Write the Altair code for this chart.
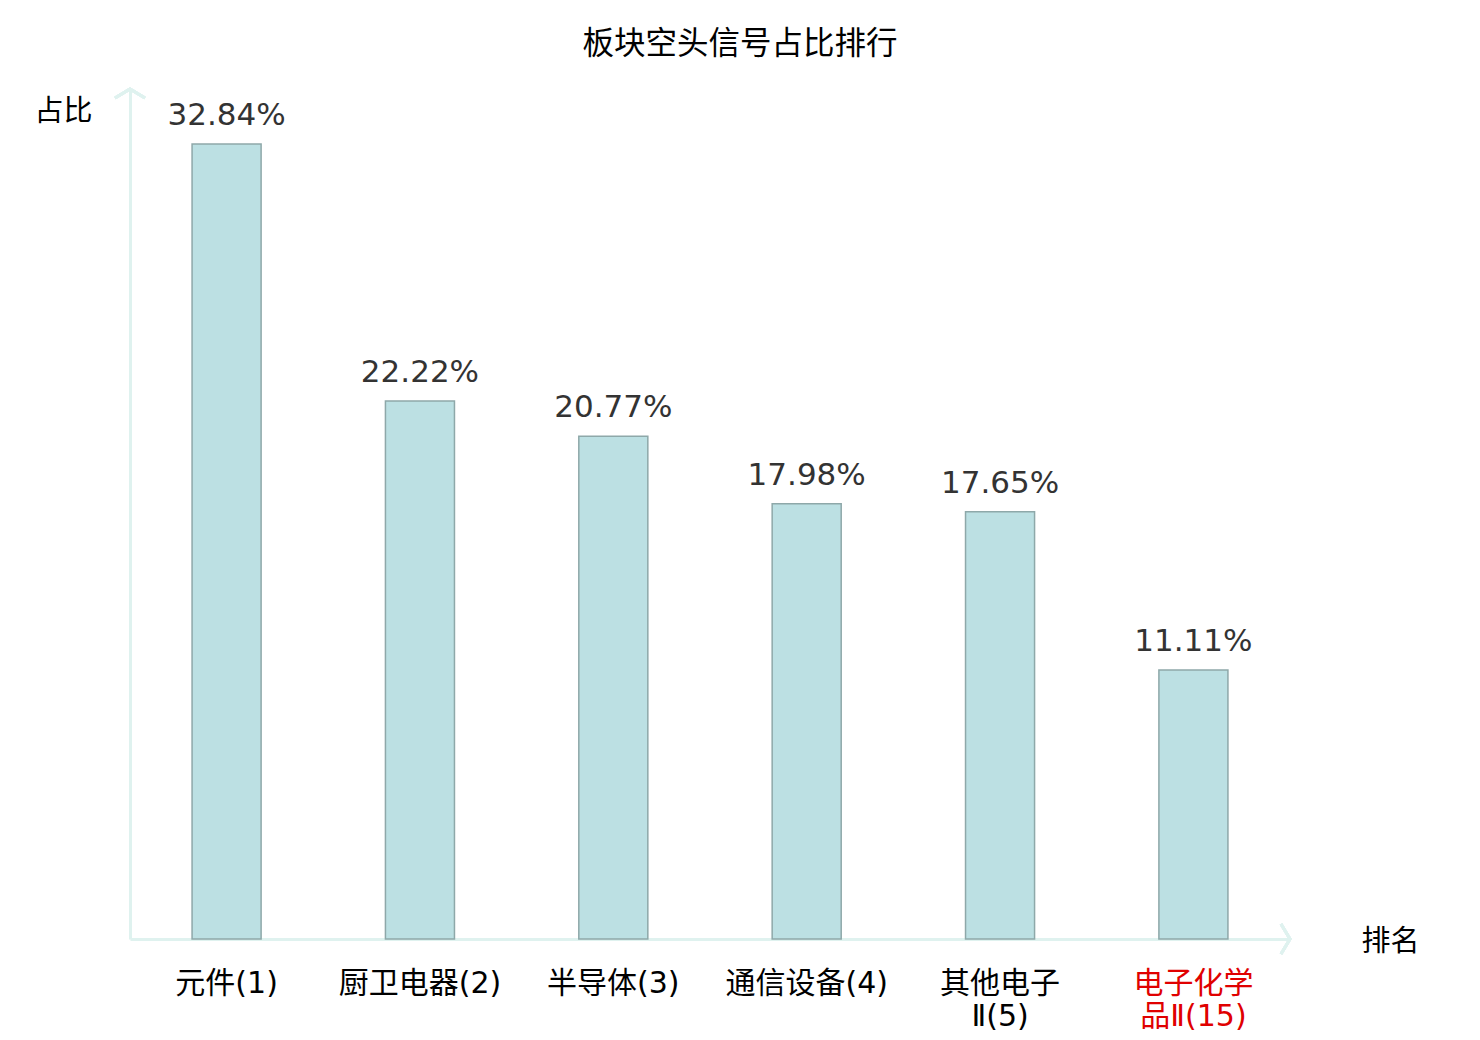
import altair as alt
import pandas as pd

categories = ["元件(1)", "厨卫电器(2)", "半导体(3)", "通信设备(4)", "其他电子|Ⅱ(5)", "电子化学|品Ⅱ(15)"]
values = [32.84, 22.22, 20.77, 17.98, 17.65, 11.11]
labels = ["32.84%", "22.22%", "20.77%", "17.98%", "17.65%", "11.11%"]
highlight = "电子化学|品Ⅱ(15)"

df = pd.DataFrame({"cat": categories, "val": values, "lab": labels})

W, H = 1160, 849
FONT = "DejaVu Sans, Noto Sans CJK SC"
CJK = "Noto Sans CJK SC, DejaVu Sans"
AXIS_COLOR = "#dff2ef"

x_enc = alt.X(
    "cat:N",
    sort=categories,
    scale=alt.Scale(paddingInner=0.643, paddingOuter=0.321),
    axis=alt.Axis(
        title="排名",
        titleFont=CJK,
        titleFontSize=29,
        titleFontWeight="normal",
        titleColor="#000000",
        titleX=W + 100,
        titleY=2,
        titleAlign="center",
        titleBaseline="middle",
        labelAngle=0,
        labelFont=FONT,
        labelFontSize=30,
        labelColor={"condition": {"test": f"datum.value == '{highlight}'", "value": "#e00000"}, "value": "#000000"},
        labelExpr="split(datum.label, '|')",
        labelLineHeight=33,
        labelPadding=44,
        labelBaseline="middle",
        ticks=False,
        domainColor=AXIS_COLOR,
        domainWidth=3,
        grid=False,
    ),
)

y_enc = alt.Y(
    "val:Q",
    scale=alt.Scale(domain=[0, 35.07], nice=False),
    axis=alt.Axis(
        title="占比",
        titleFont=CJK,
        titleFontSize=29,
        titleFontWeight="normal",
        titleColor="#000000",
        titleAngle=0,
        titleX=-67,
        titleY=21,
        titleAlign="center",
        titleBaseline="middle",
        labels=False,
        ticks=False,
        grid=False,
        domainColor=AXIS_COLOR,
        domainWidth=3,
    ),
)

bars = alt.Chart(df).mark_bar(
    fill="#bce0e3", stroke="#8ea8a9", strokeWidth=1.5
).encode(x=x_enc, y=y_enc)

text = alt.Chart(df).mark_text(
    font=FONT, fontSize=31, color="#333333", baseline="bottom", dy=-12
).encode(x=alt.X("cat:N", sort=categories), y="val:Q", text="lab:N")

arrow_up = alt.Chart(df).mark_point(
    shape="M-1,0.6L0,0L1,0.6", filled=False, stroke=AXIS_COLOR, strokeWidth=3, size=900
).encode(x=alt.value(0), y=alt.value(-1))

arrow_right = alt.Chart(df).mark_point(
    shape="M-0.6,-1L0,0L-0.6,1", filled=False, stroke=AXIS_COLOR, strokeWidth=3, size=900
).encode(x=alt.value(W), y=alt.value(H))

chart = alt.layer(bars, text, arrow_up, arrow_right).properties(
    width=W,
    height=H,
    title=alt.TitleParams(
        text="板块空头信号占比排行",
        font=CJK,
        fontSize=31.5,
        fontWeight="normal",
        color="#000000",
        anchor="middle",
        dx=30,
        offset=23,
    ),
    autosize=alt.AutoSizeParams(type="none"),
    padding={"left": 122, "top": 82, "right": 180, "bottom": 93},
).configure_view(stroke=None)

chart.save("out.html", embed_options={"renderer": "svg", "actions": False})
